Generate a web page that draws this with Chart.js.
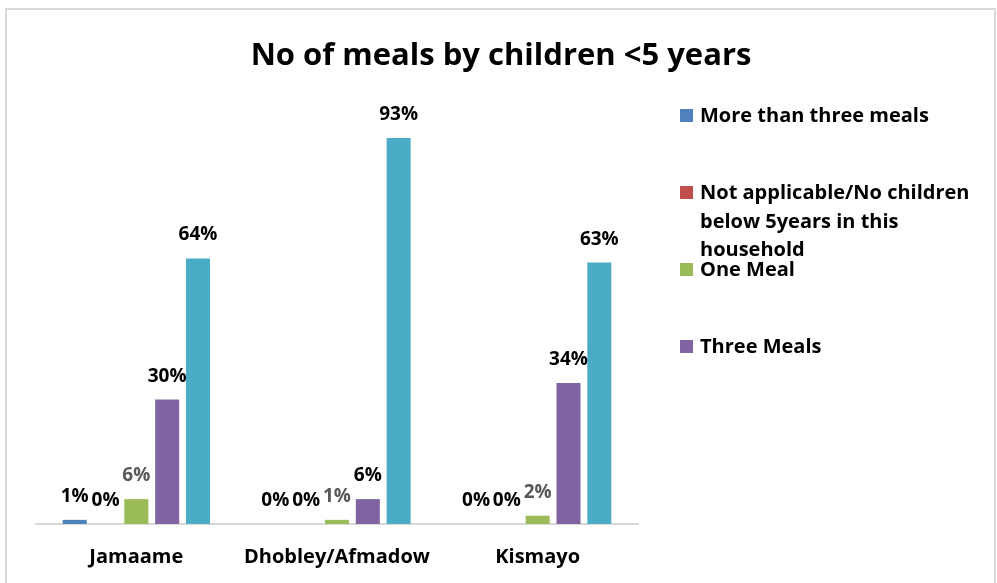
<!DOCTYPE html>
<html>
<head>
<meta charset="utf-8">
<title>No of meals by children &lt;5 years</title>
<script src="https://cdn.jsdelivr.net/npm/chart.js@4.4.0/dist/chart.umd.min.js"></script>
<style>
    html, body { margin: 0; padding: 0; background: #fff; }
    #wrap { position: relative; width: 997px; height: 583px; overflow: hidden; }
    #mealsChart { position: absolute; left: 0; top: 0; }
    #frame {
        position: absolute; left: 5px; top: 8px; width: 987px; height: 620px;
        border: 2px solid #d9d9d9; border-bottom: none; pointer-events: none;
    }
</style>
</head>
<body>
<div id="wrap">
    <canvas id="mealsChart" width="997" height="583"></canvas>
    <div id="frame"></div>
</div>
<script>
// Share of households (%) per district
const districts = ['Jamaame', 'Dhobley/Afmadow', 'Kismayo'];
const moreThanThree = [1, 0, 0];
const notApplicable = [0, 0, 0];
const oneMeal = [6, 1, 2];
const threeMeals = [30, 6, 34];
const twoMeals = [64, 93, 63];

const chartTitle = 'No of meals by children <5 years';
const FONT = '"Open Sans", Lato, sans-serif';

// only the first four entries fit in the legend column
const legendCount = 4;

const titlePlugin = {
    id: 'titleText',
    afterDraw(chart) {
        const ctx = chart.ctx;
        ctx.save();
        ctx.font = 'bold 31px ' + FONT;
        ctx.fillStyle = '#000';
        ctx.textAlign = 'center';
        ctx.textBaseline = 'alphabetic';
        ctx.fillText(chartTitle, 501, 65);
        ctx.restore();
    }
};

const valueLabels = {
    id: 'valueLabels',
    afterDatasetsDraw(chart) {
        const ctx = chart.ctx;
        ctx.save();
        ctx.font = 'bold 19px ' + FONT;
        ctx.textAlign = 'center';
        ctx.textBaseline = 'alphabetic';
        chart.data.datasets.forEach((ds, i) => {
            const meta = chart.getDatasetMeta(i);
            ctx.fillStyle = ds.labelColor || '#000';
            meta.data.forEach((bar, j) => {
                ctx.fillText(ds.data[j] + '%', bar.x, bar.y - 18);
            });
        });
        ctx.restore();
    }
};

function wrapText(ctx, text, maxWidth) {
    const words = text.split(' ');
    const lines = [];
    let line = '';
    words.forEach(w => {
        const test = line ? line + ' ' + w : w;
        if (line && ctx.measureText(test).width > maxWidth) {
            lines.push(line);
            line = w;
        } else {
            line = test;
        }
    });
    if (line) lines.push(line);
    return lines;
}

const sideLegend = {
    id: 'sideLegend',
    afterDraw(chart) {
        const ctx = chart.ctx;
        const x = 680, textX = 700;
        ctx.save();
        ctx.font = 'bold 20px ' + FONT;
        ctx.textAlign = 'left';
        ctx.textBaseline = 'alphabetic';
        chart.data.datasets.slice(0, legendCount).forEach((ds, i) => {
            const base = 122 + i * 77;
            ctx.fillStyle = ds.backgroundColor;
            ctx.fillRect(x, base - 13, 13, 13);
            ctx.fillStyle = '#000';
            wrapText(ctx, ds.label, 290).forEach((line, k) => {
                ctx.fillText(line, textX, base + k * 28.5);
            });
        });
        ctx.restore();
    }
};

const ctx = document.getElementById('mealsChart').getContext('2d');

new Chart(ctx, {
    type: 'bar',
    data: {
        labels: districts,
        datasets: [
            { label: 'More than three meals', data: moreThanThree, backgroundColor: '#4f81bd' },
            { label: 'Not applicable/No children below 5years in this household', data: notApplicable, backgroundColor: '#c0504d' },
            { label: 'One Meal', data: oneMeal, backgroundColor: '#9bbb59', labelColor: '#595959' },
            { label: 'Three Meals', data: threeMeals, backgroundColor: '#8064a2' },
            { label: 'Two Meals', data: twoMeals, backgroundColor: '#4bacc6' }
        ]
    },
    options: {
        responsive: false,
        animation: false,
        events: [],
        layout: {
            padding: { left: 36, right: 359, top: 109, bottom: 0 }
        },
        datasets: {
            bar: {
                categoryPercentage: 0.768,
                barPercentage: 0.78
            }
        },
        plugins: {
            legend: { display: false },
            title: { display: false },
            tooltip: { enabled: false }
        },
        scales: {
            x: {
                afterFit(scale) { scale.height = 59; },
                grid: { display: false, drawTicks: false },
                border: { display: true, color: '#d9d9d9', width: 2 },
                ticks: {
                    color: '#000',
                    padding: 21,
                    font: { family: FONT, size: 20, weight: 'bold' }
                }
            },
            y: {
                display: false,
                min: 0,
                max: 100
            }
        }
    },
    plugins: [titlePlugin, valueLabels, sideLegend]
});
</script>
</body>
</html>
